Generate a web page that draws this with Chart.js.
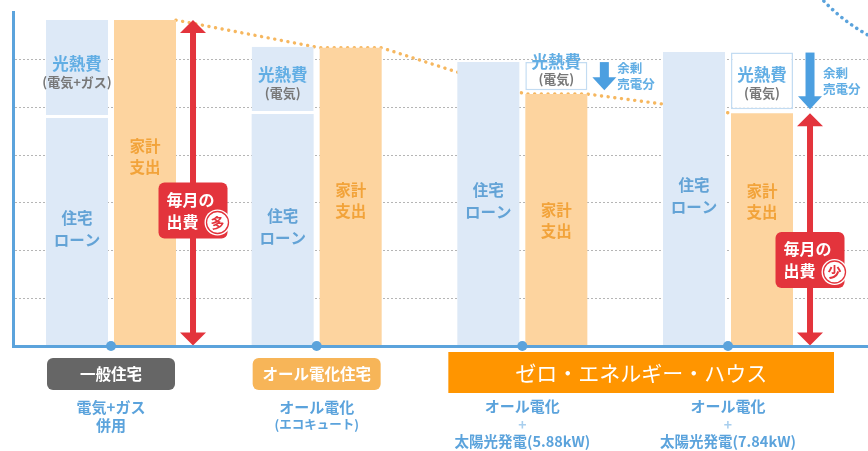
<!DOCTYPE html>
<html><head><meta charset="utf-8">
<script src="https://cdn.jsdelivr.net/npm/chart.js@4"></script>
<style>html,body{margin:0;padding:0;background:#fff;}#wrap{width:868px;height:451px;}</style>
</head><body><div id="wrap"><canvas id="c" width="868" height="451"></canvas></div>
<script>
// ---- data ----
const categories = ['一般住宅', 'オール電化住宅', 'ZEH 5.88kW', 'ZEH 7.84kW'];
const housingLoan = [4.78, 4.86, 5.95, 6.16];          // 住宅ローン
const utilityInBar = [2.05, 1.41, null, null];         // 光熱費 (stacked on loan)
const householdSpending = [6.83, 6.25, 5.28, 4.88];    // 家計支出
const utilityGap = [null, null, 0.08, 0.08];
const utilityElectric = [null, null, 0.59, 1.19];      // 光熱費(電気) box above spending
const yTicks = [0, 1, 2, 3, 4, 5, 6, 7];
const utilitySubLabels = ['(電気+ガス)', '(電気)', '(電気)', '(電気)'];
const bottomTitles = ['一般住宅', 'オール電化住宅'];
const zehTitle = 'ゼロ・エネルギー・ハウス';
const bottomSubs = [['電気+ガス', '併用'], ['オール電化', '(エコキュート)'], ['オール電化', '+', '太陽光発電(5.88kW)'], ['オール電化', '+', '太陽光発電(7.84kW)']];
const badge = ['多', null, null, '少'];

// ---- style ----
const FONT = "'Noto Sans CJK JP','Noto Sans',sans-serif";
const AXIS = '#5ba3dc', BLUE = '#dde9f7', ORANGE = '#fdd49f', RED = '#e3343c';
const ARROW_BLUE = '#4c9fe0', TEXT_BLUE = '#62aee4', LOAN_BLUE = '#63a3d6', SPEND_ORANGE = '#f2a33a';
const CP = 0.6613, BP = 0.912;
const X_MIN = -0.4765, X_MAX = 3.6807;
const spendLabelY = [156, 200, 220, 201];
const redLabelY = [210.5, 260];

const slot = CP / 2, edgeL = slot * (1 - BP) / 2, edgeR = slot - edgeL;
const trend = [];
householdSpending.forEach((v, i) => {
  if (i > 0) trend.push({x: i + edgeL, y: v});
  if (i < householdSpending.length - 1) trend.push({x: i + edgeR, y: v});
});
const xy = arr => arr.map((v, i) => ({x: i, y: v}));

function t(ctx, s, x, y, size, color, align = 'center', weight = 'bold') {
  ctx.font = `${weight} ${size}px ${FONT}`;
  ctx.fillStyle = color; ctx.textAlign = align; ctx.textBaseline = 'middle';
  ctx.fillText(s, x, y);
}
function rr(ctx, x, y, w, h, r, color) {
  ctx.beginPath(); ctx.roundRect(x, y, w, h, r); ctx.fillStyle = color; ctx.fill();
}
function dblArrow(ctx, x, y1, y2) {
  const sw = 6, hw = 26, hh = 13;
  ctx.fillStyle = RED;
  ctx.fillRect(x - sw / 2, y1 + hh - 1, sw, y2 - y1 - 2 * hh + 2);
  ctx.beginPath(); ctx.moveTo(x, y1); ctx.lineTo(x + hw / 2, y1 + hh); ctx.lineTo(x - hw / 2, y1 + hh); ctx.closePath(); ctx.fill();
  ctx.beginPath(); ctx.moveTo(x, y2); ctx.lineTo(x + hw / 2, y2 - hh); ctx.lineTo(x - hw / 2, y2 - hh); ctx.closePath(); ctx.fill();
}
function downArrow(ctx, x, y1, y2) {
  const sw = 9, hw = 24, hh = 13;
  ctx.fillStyle = ARROW_BLUE;
  ctx.fillRect(x - sw / 2, y1, sw, y2 - y1 - hh + 1);
  ctx.beginPath(); ctx.moveTo(x, y2); ctx.lineTo(x + hw / 2, y2 - hh); ctx.lineTo(x - hw / 2, y2 - hh); ctx.closePath(); ctx.fill();
}
function redLabel(ctx, cx, cy, ch) {
  const w = 69, h = 56;
  rr(ctx, cx - w / 2, cy - h / 2, w, h, 6, RED);
  t(ctx, '毎月の', cx - w / 2 + 8, cy - 11, 16, '#fff', 'left');
  t(ctx, '出費', cx - w / 2 + 8, cy + 11, 16, '#fff', 'left');
  const ccx = cx + w / 2 - 10, ccy = cy + 12;
  ctx.beginPath(); ctx.arc(ccx, ccy, 13, 0, Math.PI * 2); ctx.fillStyle = '#fff'; ctx.fill();
  ctx.beginPath(); ctx.arc(ccx, ccy, 11, 0, Math.PI * 2); ctx.lineWidth = 1.3; ctx.strokeStyle = RED; ctx.stroke();
  t(ctx, ch, ccx, ccy, 14, RED);
}

const overlay = {
  id: 'overlay',
  afterDatasetsDraw(chart) {
    const ctx = chart.ctx;
    const xs = chart.scales.x;
    const loan = chart.getDatasetMeta(0).data, util = chart.getDatasetMeta(1).data;
    const spend = chart.getDatasetMeta(2).data, box = chart.getDatasetMeta(4).data;
    ctx.save();
    categories.forEach((c, i) => {
      const L = loan[i];
      const lc = (L.y + L.base) / 2 - 3;
      t(ctx, '住宅', L.x, lc - 11, 15.5, LOAN_BLUE);
      t(ctx, 'ローン', L.x, lc + 11, 15.5, LOAN_BLUE);
      if (utilityInBar[i] !== null) {
        const U = util[i]; const uc = (U.y + U.base) / 2;
        t(ctx, '光熱費', U.x, uc - 5.5, 16.5, TEXT_BLUE);
        t(ctx, utilitySubLabels[i], U.x, uc + 13, 13, '#777');
      }
      const S = spend[i];
      t(ctx, '家計', S.x, spendLabelY[i] - 10, 15.5, SPEND_ORANGE);
      t(ctx, '支出', S.x, spendLabelY[i] + 11, 15.5, SPEND_ORANGE);
      const ax = S.x + S.width / 2 + 17;
      if (utilityElectric[i] !== null) {
        const B = box[i]; const bc = (B.y + B.base) / 2;
        const sub = Math.min(bc + 12, B.base - 11);
        t(ctx, '光熱費', B.x, sub - 18, 16.5, TEXT_BLUE);
        t(ctx, utilitySubLabels[i], B.x, sub, 13, '#777');
        downArrow(ctx, ax, B.y, B.base);
        t(ctx, '余剰', ax + 13, bc - 8, 12.5, TEXT_BLUE, 'left');
        t(ctx, '売電分', ax + 13, bc + 8, 12.5, TEXT_BLUE, 'left');
      }
      if (badge[i]) {
        dblArrow(ctx, ax, S.y, S.base);
        redLabel(ctx, ax, redLabelY[i === 0 ? 0 : 1], badge[i]);
      }
    });
    const cx = i => xs.getPixelForValue(i);
    rr(ctx, cx(0) - 64, 358, 128, 32, 6, '#666666');
    t(ctx, bottomTitles[0], cx(0), 374, 15.5, '#fff');
    rr(ctx, cx(1) - 64, 358, 128, 32, 6, '#f7b558');
    t(ctx, bottomTitles[1], cx(1), 374, 15.5, '#fff');
    ctx.fillStyle = '#ff9500';
    ctx.fillRect(cx(2) - 74, 352, cx(3) - cx(2) + 180, 41);
    t(ctx, zehTitle, (cx(2) - 74 + cx(3) + 106) / 2, 373, 21, '#fff', 'center', 'normal');
    t(ctx, bottomSubs[0][0], cx(0), 407, 15, AXIS);
    t(ctx, bottomSubs[0][1], cx(0), 425, 15, AXIS);
    t(ctx, bottomSubs[1][0], cx(1), 407, 15, AXIS);
    t(ctx, bottomSubs[1][1], cx(1), 424, 12.5, AXIS);
    [2, 3].forEach(i => {
      t(ctx, bottomSubs[i][0], cx(i), 406, 15, AXIS);
      t(ctx, bottomSubs[i][1], cx(i), 425, 14, '#a9cfee');
      t(ctx, bottomSubs[i][2], cx(i), 441, 14.5, AXIS);
    });
    ctx.beginPath();
    ctx.setLineDash([0.1, 6]); ctx.lineCap = 'round'; ctx.lineWidth = 3.5; ctx.strokeStyle = AXIS;
    ctx.arc(960, -130, 189, Math.PI * 112 / 180, Math.PI * 137 / 180);
    ctx.stroke();
    ctx.restore();
  }
};

new Chart(document.getElementById('c'), {
  type: 'bar',
  data: {
    datasets: [
      {label: '住宅ローン', data: xy(housingLoan), stack: 'a', backgroundColor: BLUE, order: 1},
      {label: '光熱費', data: xy(utilityInBar), stack: 'a', backgroundColor: BLUE, borderColor: '#fff',
        borderWidth: {top: 0, left: 0, right: 0, bottom: 3}, borderSkipped: false, order: 1},
      {label: '家計支出', data: xy(householdSpending), stack: 'b', backgroundColor: ORANGE, order: 1},
      {label: 'gap', data: xy(utilityGap), stack: 'b', backgroundColor: 'rgba(0,0,0,0)', order: 1},
      {label: '光熱費(電気)', data: xy(utilityElectric), stack: 'b', backgroundColor: '#fff', borderColor: '#c3dcf2',
        borderWidth: 1.5, borderSkipped: false, order: 1},
      {type: 'line', label: 'trend', data: trend, borderColor: '#f6b75f', borderWidth: 3.4, borderDash: [0.1, 6.6],
        borderCapStyle: 'round', pointRadius: 0, fill: false, order: 10, clip: false, stack: 'trend'},
      {type: 'scatter', label: 'dots', data: categories.map((c, i) => ({x: i, y: 0})), pointRadius: 5,
        pointBackgroundColor: AXIS, backgroundColor: AXIS, borderWidth: 0, order: -1, clip: false, stack: 'dots'}
    ]
  },
  options: {
    responsive: false, animation: false, devicePixelRatio: 1,
    categoryPercentage: CP, barPercentage: BP,
    layout: {autoPadding: false, padding: {left: 13, top: 12, right: 0, bottom: 105}},
    plugins: {legend: {display: false}, tooltip: {enabled: false}},
    scales: {
      x: {type: 'linear', min: X_MIN, max: X_MAX, offset: false, bounds: 'data',
        ticks: {display: false, stepSize: 1, includeBounds: false},
        afterBuildTicks: s => { s.ticks = categories.map((c, i) => ({value: i})); },
        grid: {display: false, drawTicks: false, offset: false},
        border: {display: true, color: AXIS, width: 3, z: 1},
        afterFit: s => { s.height = 0; s.paddingLeft = 0; s.paddingRight = 0; }},
      y: {type: 'linear', stacked: true, min: yTicks[0], max: yTicks[yTicks.length - 1],
        afterBuildTicks: s => { s.ticks = yTicks.map(v => ({value: v})); },
        ticks: {display: false},
        grid: {drawTicks: false, lineWidth: 1,
          color: c => (c.tick && c.tick.value > 0 && c.tick.value < 7) ? '#b5b5b5' : 'rgba(0,0,0,0)'},
        border: {display: true, color: AXIS, width: 3, dash: [2, 2], z: 1},
        afterFit: s => { s.width = 0; s.paddingTop = 0; s.paddingBottom = 0; }}
    }
  },
  plugins: [overlay]
});
</script></body></html>
